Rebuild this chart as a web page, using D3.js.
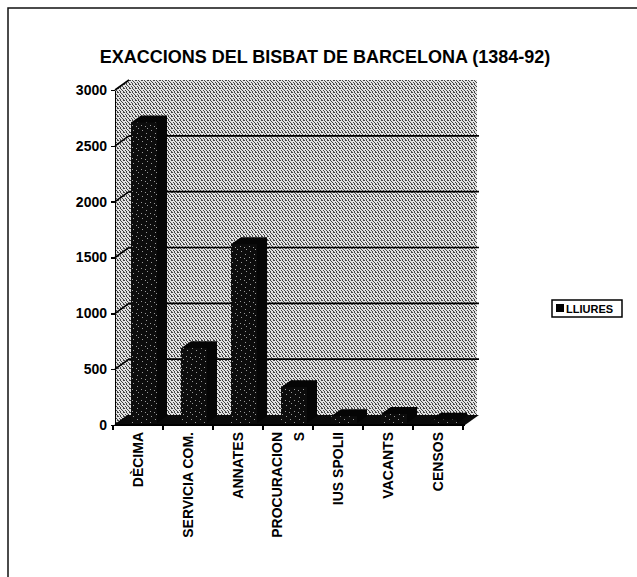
<!DOCTYPE html>
<meta charset="utf-8">
<style>
  body { margin: 0; background: #fff; }
  svg { font-family: Arial, "Liberation Sans", sans-serif; font-weight: bold; }
  .axis path, .axis line { stroke: #000; stroke-width: 1.5px; shape-rendering: crispEdges; }
  .axis text { font-size: 14px; font-weight: bold; fill: #000; font-family: Arial, "Liberation Sans", sans-serif; }
  .grid { stroke: #000; stroke-width: 1.6px; }
  .xlabel { font-size: 14px; fill: #000; }
</style>
<body>
<script src="https://cdn.jsdelivr.net/npm/d3@7"></script>
<script>

  var categories = ["DÈCIMA", "SERVICIA COM.", "ANNATES", "PROCURACIONS", "IUS SPOLII", "VACANTS", "CENSOS"];
  var tickLabels = [["DÈCIMA"], ["SERVICIA COM."], ["ANNATES"], ["PROCURACION", "S"], ["IUS SPOLII"], ["VACANTS"], ["CENSOS"]];
  var lliures = [2690, 670, 1600, 320, 60, 80, 30];
  var yTicks = [0, 500, 1000, 1500, 2000, 2500, 3000];
  var seriesName = "LLIURES";

  var width = 637, height = 577;

  // front plane of the 3D box
  var x = d3.scaleBand()
    .domain(categories)
    .range([113, 463])
    .paddingInner(0.48)
    .paddingOuter(0.24);

  var y = d3.scaleLinear()
    .domain([0, 3000])
    .range([425, 90]);

  var wall = {dx: 14, dy: -10};   // depth of the back wall
  var front = {dx: 6, dy: -2};    // where the bars' front faces sit
  var deep = {dx: 10, dy: -7};    // depth of a bar

  var svg = d3.select("body").append("svg")
    .attr("width", width)
    .attr("height", height);

  var defs = svg.append("defs");

  // halftone-ish stipple for the walls
  var p = defs.append("pattern")
    .attr("id", "stipple")
    .attr("width", 6).attr("height", 4)
    .attr("patternUnits", "userSpaceOnUse");
  p.append("rect").attr("width", 6).attr("height", 4).attr("fill", "#e2e2e2");
  [[0, 0], [3, 0], [4, 0], [1, 1], [5, 2], [2, 2], [0, 3], [3, 3]].forEach(function(d) {
    p.append("rect").attr("x", d[0]).attr("y", d[1]).attr("width", 1).attr("height", 1).attr("fill", "#444");
  });

  // speckled black for the bar fronts
  var b = defs.append("pattern")
    .attr("id", "speckle")
    .attr("width", 9).attr("height", 11)
    .attr("patternUnits", "userSpaceOnUse");
  b.append("rect").attr("width", 9).attr("height", 11).attr("fill", "#0c0c0c");
  [[2, 1], [6, 4], [3, 7], [7, 9], [1, 5]].forEach(function(d) {
    b.append("rect").attr("x", d[0]).attr("y", d[1]).attr("width", 1).attr("height", 1).attr("fill", "#9a9a9a");
  });

  // outer frame (top and left edges only, like the scan)
  svg.append("path")
    .attr("d", "M8,577V8H637")
    .attr("fill", "none")
    .attr("stroke", "#111")
    .attr("stroke-width", 1.5);

  // title
  svg.append("text")
    .attr("x", 325)
    .attr("y", 63)
    .attr("text-anchor", "middle")
    .style("font-size", "18px")
    .text("EXACCIONS DEL BISBAT DE BARCELONA (1384-92)");

  var x0 = x.range()[0], x1 = x.range()[1];
  var yTop = y(yTicks[yTicks.length - 1]), yBase = y(0);

  // side wall
  svg.append("path")
    .attr("d", d3.line()([[x0 + 2, yBase], [x0 + 2 + wall.dx, yBase + wall.dy], [x0 + 2 + wall.dx, yTop + wall.dy], [x0 + 2, yTop]]))
    .attr("fill", "url(#stipple)");

  // back wall
  svg.append("rect")
    .attr("x", x0 + 2 + wall.dx)
    .attr("y", yTop + wall.dy)
    .attr("width", x1 - x0 - 2)
    .attr("height", yBase - yTop)
    .attr("fill", "url(#stipple)");

  // gridlines on back wall and their diagonals on the side wall
  svg.selectAll(".grid-back")
    .data(yTicks.slice(1, -1))
    .enter().append("line")
    .attr("class", "grid")
    .attr("x1", x0 + 2 + wall.dx)
    .attr("x2", x1 + 2 + wall.dx)
    .attr("y1", function(d) { return y(d) + wall.dy; })
    .attr("y2", function(d) { return y(d) + wall.dy; });

  svg.selectAll(".grid-side")
    .data(yTicks)
    .enter().append("line")
    .attr("class", "grid")
    .attr("x1", x0 + 2)
    .attr("x2", x0 + 2 + wall.dx)
    .attr("y1", function(d) { return y(d); })
    .attr("y2", function(d) { return y(d) + wall.dy; });

  // floor
  svg.append("path")
    .attr("d", d3.line()([[x0 + 2, yBase], [x1 + 2, yBase], [x1 + 2 + wall.dx, yBase + wall.dy], [x0 + 2 + wall.dx, yBase + wall.dy]]) + "Z")
    .attr("fill", "#0a0a0a");

  // bars
  var bars = svg.selectAll(".bar")
    .data(categories.map(function(c, i) { return {cat: c, v: lliures[i]}; }))
    .enter().append("g")
    .attr("class", "bar");

  var bw = x.bandwidth();

  bars.append("path")
    .attr("fill", "#050505")
    .attr("d", function(d) {
      var X = x(d.cat) + front.dx, Yt = y(d.v) + front.dy, Yb = yBase + front.dy;
      return d3.line()([[X, Yt], [X + deep.dx, Yt + deep.dy], [X + bw + deep.dx, Yt + deep.dy],
        [X + bw + deep.dx, Yb + deep.dy], [X + bw, Yb], [X, Yb]]) + "Z";
    });

  bars.append("rect")
    .attr("fill", "url(#speckle)")
    .attr("x", function(d) { return x(d.cat) + front.dx; })
    .attr("y", function(d) { return y(d.v) + front.dy; })
    .attr("width", bw)
    .attr("height", function(d) { return yBase - y(d.v); });

  // y axis
  svg.append("g")
    .attr("class", "axis")
    .attr("transform", "translate(" + (x0 + 2) + ",0)")
    .call(d3.axisLeft(y).tickValues(yTicks).tickFormat(d3.format("d"))
      .tickSize(4).tickSizeOuter(0).tickPadding(4));

  // x axis: ticks on the category boundaries
  var step = x.step();
  var bounds = d3.range(categories.length + 1).map(function(i) { return x0 + i * step; });
  var xa = svg.append("g").attr("class", "axis");
  xa.append("line")
    .attr("x1", x0 + 2).attr("x2", x1 + 2)
    .attr("y1", yBase).attr("y2", yBase);
  xa.selectAll(".xt")
    .data(bounds)
    .enter().append("line")
    .attr("x1", function(d) { return d; })
    .attr("x2", function(d) { return d; })
    .attr("y1", yBase)
    .attr("y2", yBase + 5);

  // rotated category labels
  var lab = svg.selectAll(".xlabel")
    .data(categories)
    .enter().append("text")
    .attr("class", "xlabel")
    .attr("text-anchor", "end")
    .attr("transform", function(d) {
      return "translate(" + (x(d) + bw / 2) + "," + (yBase + 7) + ") rotate(-90)";
    });

  lab.each(function(d, i) {
    var lines = tickLabels[i];
    var t = d3.select(this);
    lines.forEach(function(s, j) {
      var off = (j - (lines.length - 1) / 2) * 22;
      t.append("tspan")
        .attr("x", 0)
        .attr("y", off + 5)
        .text(s);
    });
  });

  // legend
  var lg = svg.append("g").attr("transform", "translate(552,300)");
  lg.append("rect")
    .attr("width", 70).attr("height", 17)
    .attr("fill", "#fff")
    .attr("stroke", "#000")
    .attr("stroke-width", 1.5);
  lg.append("rect")
    .attr("x", 4).attr("y", 4)
    .attr("width", 8).attr("height", 8)
    .attr("fill", "#000");
  lg.append("text")
    .attr("x", 14).attr("y", 12.5)
    .style("font-size", "11px")
    .text(seriesName);

</script>
